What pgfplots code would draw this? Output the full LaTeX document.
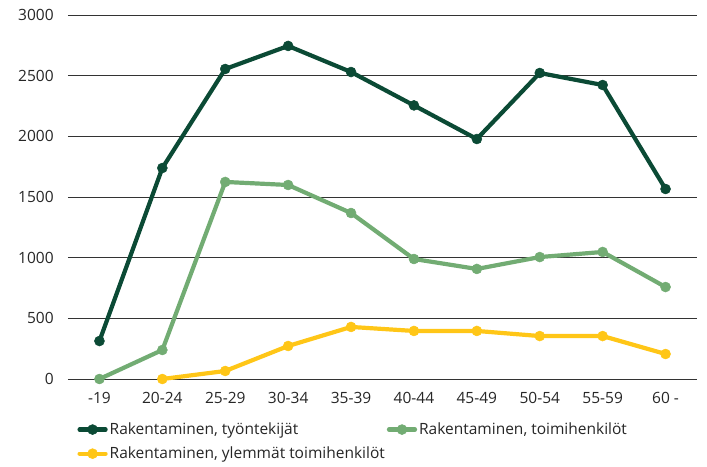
\documentclass[border=0pt]{standalone}
\usepackage{pgfplots}
\pgfplotsset{compat=1.18}
\usepackage{fontspec}
\setmainfont{Open Sans}
\definecolor{dkgreen}{HTML}{0B4A35}
\definecolor{mdgreen}{HTML}{72AC73}
\definecolor{ylw}{HTML}{FFC617}
\begin{document}
\fontsize{15.5}{18}\selectfont
\begin{tikzpicture}
\begin{axis}[
  scale only axis,
  width=629pt, height=364pt,
  xmin=-0.5, xmax=9.5,
  ymin=0, ymax=3000,
  ytick={0,500,...,3000},
  xtick={0,...,9},
  xticklabels={-19,20-24,25-29,30-34,35-39,40-44,45-49,50-54,55-59,60 -},
  axis line style={draw=none},
  major tick length=0pt,
  ymajorgrids,
  grid style={black!80, line width=0.7pt},
  /pgf/number format/assume math mode=true,
  /pgf/number format/1000 sep={},
  yticklabel style={xshift=-9pt},
  xticklabel style={yshift=-8pt},
  tick label style={font=\fontsize{15.5}{18}\selectfont, text=black!85},
  legend style={draw=none, at={(0.01,-0.108)}, anchor=north west,
    font=\fontsize{15.5}{18}\selectfont, text=black!85,
    column sep=0pt, row sep=6pt,
    /tikz/every even column/.append style={column sep=0pt}},
  legend columns=2,
  legend cell align=left,
  legend image code/.code={\draw[mark repeat=2,mark phase=2] plot coordinates {(0pt,0pt) (13pt,0pt) (26pt,0pt)};},
  every axis plot/.append style={line width=4.2pt, mark=*, mark size=5pt, line join=round, line cap=round},
  clip=false,
]
\addplot[color=dkgreen, mark options={solid, fill=dkgreen, draw=dkgreen, line width=0.5pt}] coordinates {
(0,313) (1,1739) (2,2555) (3,2745) (4,2530) (5,2255) (6,1978) (7,2522) (8,2423) (9,1566)};
\addlegendentry{Rakentaminen, työntekijät}
\addplot[color=mdgreen, mark options={solid, fill=mdgreen, draw=mdgreen, line width=0.5pt}] coordinates {
(0,0) (1,239) (2,1624) (3,1599) (4,1368) (5,989) (6,907) (7,1005) (8,1047) (9,758)};
\addlegendentry{Rakentaminen, toimihenkilöt}
\addplot[color=ylw, mark options={solid, fill=ylw, draw=ylw, line width=0.5pt}] coordinates {
(1,0) (2,66) (3,272) (4,429) (5,396) (6,396) (7,354) (8,354) (9,206)};
\addlegendentry{Rakentaminen, ylemmät toimihenkilöt}
\end{axis}
\path (current axis.south west) ++(-68pt,-87pt) (current axis.north east) ++(10pt,15pt);
\end{tikzpicture}
\end{document}
